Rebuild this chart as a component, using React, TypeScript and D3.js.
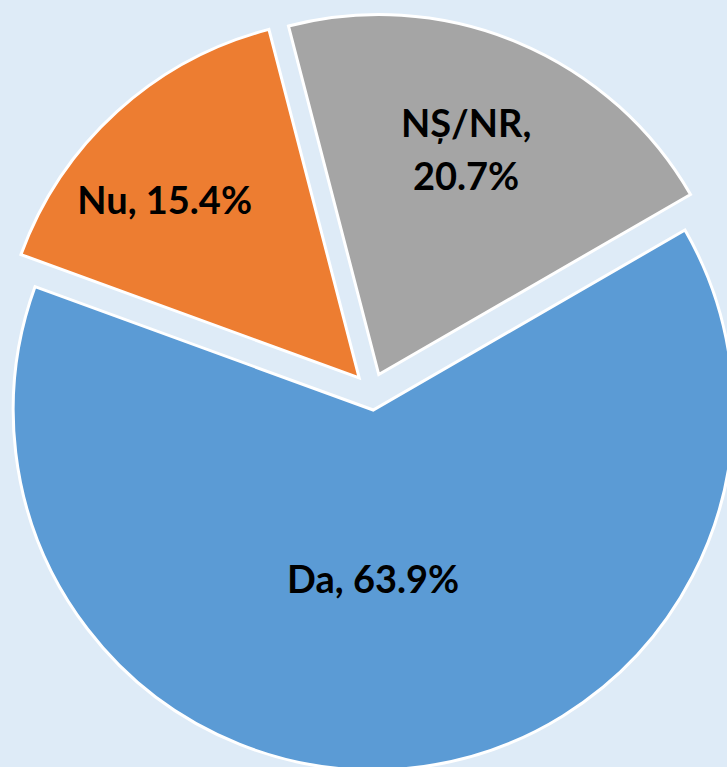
import { useEffect, useRef } from "react";
import * as d3 from "d3";

// Chart data
const labels = ["Da", "Nu", "NȘ/NR"];
const values = [63.9, 15.4, 20.7];
const colors = ["#5B9BD5", "#ED7D31", "#A5A5A5"];

// label placement tweaks (radius factor, angle nudge in degrees)
const labelRadius = [0.47, 0.73, 0.67];
const labelNudge = [5, -5.5, -1.5];
const labelLines = [["Da, 63.9%"], ["Nu, 15.4%"], ["NȘ/NR,", "20.7%"]];

const W = 727;
const H = 767;

const App = () => {
  const svgRef = useRef<SVGSVGElement>(null);

  useEffect(() => {
    const svg = d3.select(svgRef.current);
    svg.selectAll("*").remove();

    const cx = 371.6;
    const cy = 391.6;
    const R = 360;
    const explode = 18.5;
    const start = (60 * Math.PI) / 180;

    svg
      .append("rect")
      .attr("width", W)
      .attr("height", H)
      .attr("fill", "#DEEBF7");

    const pie = d3
      .pie<number>()
      .sort(null)
      .value((d) => d)
      .startAngle(start)
      .endAngle(start + 2 * Math.PI);
    const arcs = pie(values);

    const arc = d3.arc<d3.PieArcDatum<number>>().innerRadius(0).outerRadius(R);

    const g = svg.append("g").attr("transform", `translate(${cx},${cy})`);

    const slices = g
      .selectAll("g.slice")
      .data(arcs)
      .join("g")
      .attr("class", "slice")
      .attr("transform", (d) => {
        const a = (d.startAngle + d.endAngle) / 2;
        return `translate(${Math.sin(a) * explode},${-Math.cos(a) * explode})`;
      });

    slices
      .append("path")
      .attr("d", arc)
      .attr("fill", (_, i) => colors[i])
      .attr("stroke", "#fff")
      .attr("stroke-width", 3)
      .attr("stroke-linejoin", "miter");

    const fontSize = 38;
    const lineH = 53;
    slices.each(function (d, i) {
      const a = (d.startAngle + d.endAngle) / 2 + (labelNudge[i] * Math.PI) / 180;
      const r = R * labelRadius[i];
      const x = Math.sin(a) * r;
      const y = -Math.cos(a) * r;
      const lines = labelLines[i];
      const text = d3
        .select(this)
        .append("text")
        .attr("text-anchor", "middle")
        .attr("font-family", "Lato, sans-serif")
        .attr("font-weight", "bold")
        .attr("font-size", fontSize)
        .attr("fill", "#000");
      const top = y - ((lines.length - 1) * lineH) / 2 + fontSize * 0.35;
      lines.forEach((ln, k) => {
        text
          .append("tspan")
          .attr("x", x)
          .attr("y", top + k * lineH)
          .text(ln);
      });
    });
    // keep labels reference
    void labels;
  }, []);

  return (
    <div style={{ position: "fixed", left: 0, top: 0, width: W, height: H, overflow: "hidden" }}>
      <svg ref={svgRef} width={W} height={H} style={{ display: "block" }}></svg>
    </div>
  );
};

export default App;
